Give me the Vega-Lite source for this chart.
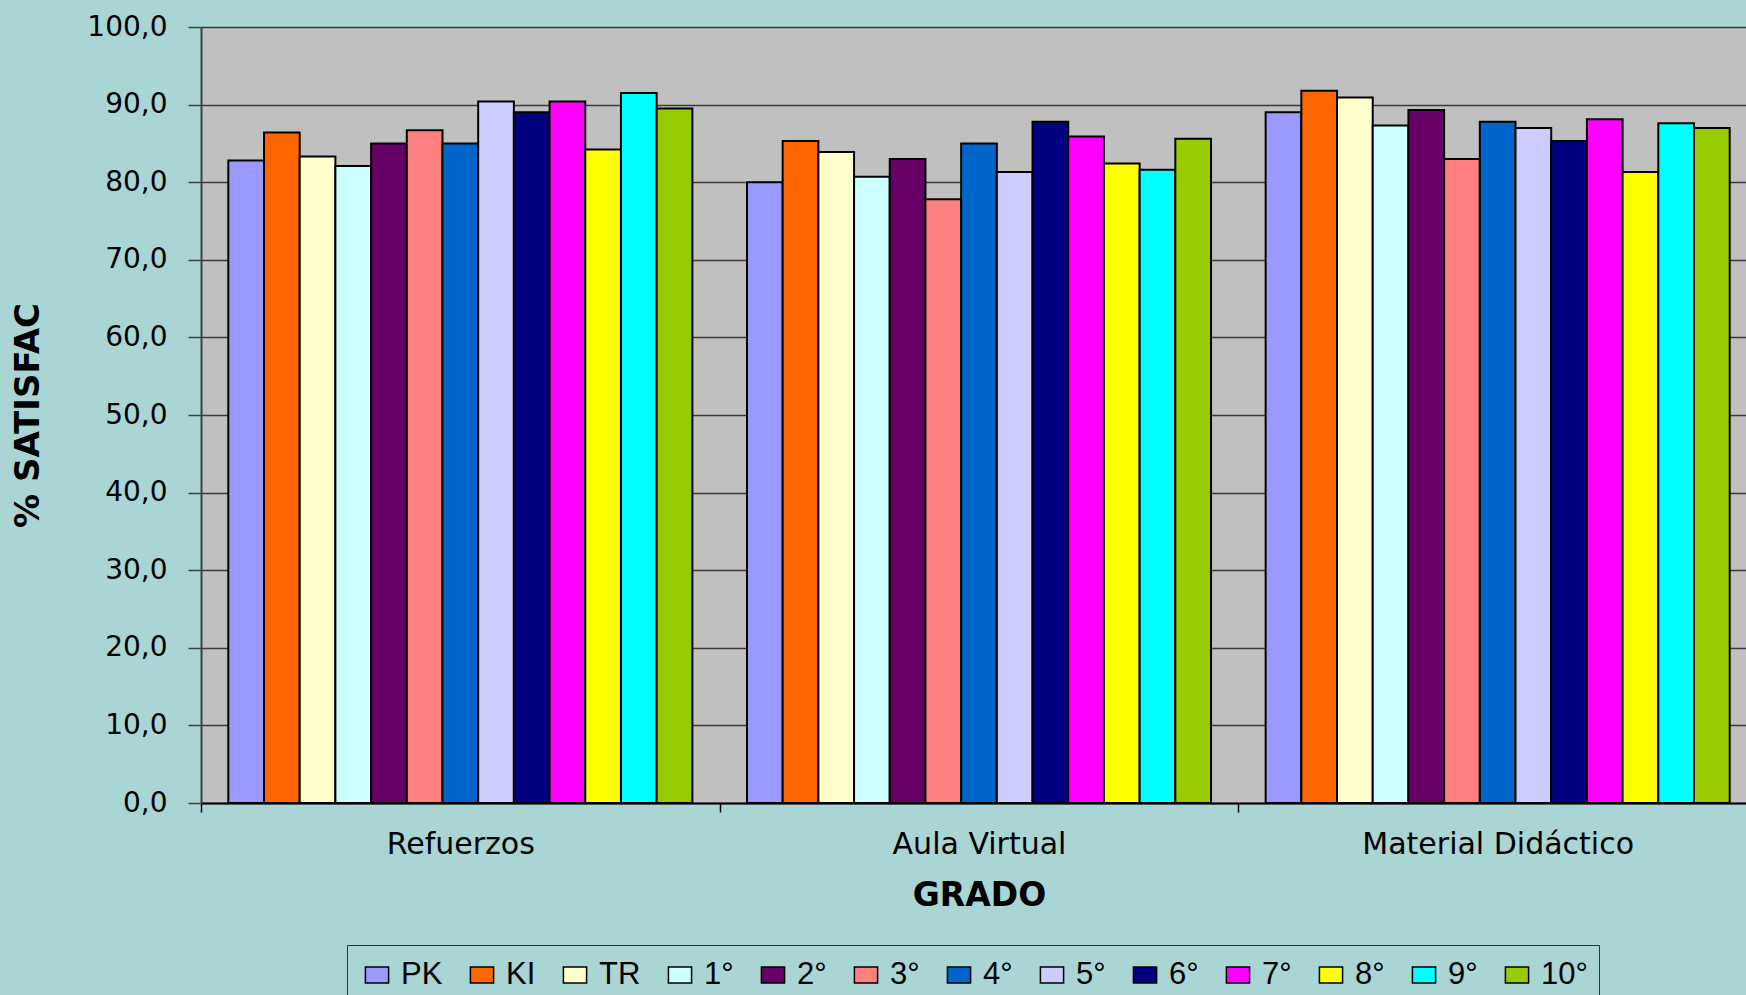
{
  "$schema": "https://vega.github.io/schema/vega-lite/v6.json",
  "width": 1556,
  "height": 776,
  "autosize": {"type": "none"},
  "padding": {"left": 201, "top": 27, "right": -11, "bottom": 192},
  "background": "#aad5d5",
  "data": {
    "values": [
      {"Aspecto": "Refuerzos", "Grado": "PK", "Pct": 82.8},
      {"Aspecto": "Refuerzos", "Grado": "KI", "Pct": 86.4},
      {"Aspecto": "Refuerzos", "Grado": "TR", "Pct": 83.3},
      {"Aspecto": "Refuerzos", "Grado": "1°", "Pct": 82.1},
      {"Aspecto": "Refuerzos", "Grado": "2°", "Pct": 85.0},
      {"Aspecto": "Refuerzos", "Grado": "3°", "Pct": 86.7},
      {"Aspecto": "Refuerzos", "Grado": "4°", "Pct": 85.0},
      {"Aspecto": "Refuerzos", "Grado": "5°", "Pct": 90.4},
      {"Aspecto": "Refuerzos", "Grado": "6°", "Pct": 89.0},
      {"Aspecto": "Refuerzos", "Grado": "7°", "Pct": 90.4},
      {"Aspecto": "Refuerzos", "Grado": "8°", "Pct": 84.2},
      {"Aspecto": "Refuerzos", "Grado": "9°", "Pct": 91.5},
      {"Aspecto": "Refuerzos", "Grado": "10°", "Pct": 89.5},
      {"Aspecto": "Aula Virtual", "Grado": "PK", "Pct": 80.0},
      {"Aspecto": "Aula Virtual", "Grado": "KI", "Pct": 85.3},
      {"Aspecto": "Aula Virtual", "Grado": "TR", "Pct": 83.9},
      {"Aspecto": "Aula Virtual", "Grado": "1°", "Pct": 80.7},
      {"Aspecto": "Aula Virtual", "Grado": "2°", "Pct": 83.0},
      {"Aspecto": "Aula Virtual", "Grado": "3°", "Pct": 77.8},
      {"Aspecto": "Aula Virtual", "Grado": "4°", "Pct": 85.0},
      {"Aspecto": "Aula Virtual", "Grado": "5°", "Pct": 81.3},
      {"Aspecto": "Aula Virtual", "Grado": "6°", "Pct": 87.8},
      {"Aspecto": "Aula Virtual", "Grado": "7°", "Pct": 85.9},
      {"Aspecto": "Aula Virtual", "Grado": "8°", "Pct": 82.4},
      {"Aspecto": "Aula Virtual", "Grado": "9°", "Pct": 81.6},
      {"Aspecto": "Aula Virtual", "Grado": "10°", "Pct": 85.6},
      {"Aspecto": "Material Didáctico", "Grado": "PK", "Pct": 89.0},
      {"Aspecto": "Material Didáctico", "Grado": "KI", "Pct": 91.8},
      {"Aspecto": "Material Didáctico", "Grado": "TR", "Pct": 90.9},
      {"Aspecto": "Material Didáctico", "Grado": "1°", "Pct": 87.3},
      {"Aspecto": "Material Didáctico", "Grado": "2°", "Pct": 89.3},
      {"Aspecto": "Material Didáctico", "Grado": "3°", "Pct": 83.0},
      {"Aspecto": "Material Didáctico", "Grado": "4°", "Pct": 87.8},
      {"Aspecto": "Material Didáctico", "Grado": "5°", "Pct": 87.0},
      {"Aspecto": "Material Didáctico", "Grado": "6°", "Pct": 85.3},
      {"Aspecto": "Material Didáctico", "Grado": "7°", "Pct": 88.1},
      {"Aspecto": "Material Didáctico", "Grado": "8°", "Pct": 81.3},
      {"Aspecto": "Material Didáctico", "Grado": "9°", "Pct": 87.6},
      {"Aspecto": "Material Didáctico", "Grado": "10°", "Pct": 87.0}
    ]
  },
  "mark": {"type": "bar", "stroke": "#000000", "strokeWidth": 2},
  "encoding": {
    "x": {
      "field": "Aspecto",
      "type": "nominal",
      "sort": ["Refuerzos", "Aula Virtual", "Material Didáctico"],
      "scale": {"paddingInner": 0, "paddingOuter": 0},
      "title": "GRADO",
      "axis": {
        "labelAngle": 0,
        "labelFont": "DejaVu Sans",
        "labelFontSize": 30,
        "labelLimit": 0,
        "labelColor": "#000000",
        "labelBaseline": "alphabetic",
        "labelPadding": 41,
        "tickSize": 9,
        "tickColor": "#000000",
        "tickWidth": 1.5,
        "tickBand": "extent",
        "domainColor": "#000000",
        "domainWidth": 2,
        "titleFont": "DejaVu Sans",
        "titleFontSize": 33,
        "titleFontWeight": "bold",
        "titleColor": "#000000",
        "titleBaseline": "alphabetic",
        "titleX": 778,
        "titleY": 102
      }
    },
    "xOffset": {
      "field": "Grado",
      "type": "nominal",
      "sort": ["PK", "KI", "TR", "1°", "2°", "3°", "4°", "5°", "6°", "7°", "8°", "9°", "10°"],
      "scale": {"paddingInner": 0, "paddingOuter": 0.765}
    },
    "y": {
      "field": "Pct",
      "type": "quantitative",
      "scale": {"domain": [0, 100], "nice": false, "zero": true},
      "title": "% SATISFAC",
      "axis": {
        "values": [0, 10, 20, 30, 40, 50, 60, 70, 80, 90, 100],
        "labelExpr": "replace(format(datum.value, '.1f'), '.', ',')",
        "labelFont": "DejaVu Sans",
        "labelFontSize": 28,
        "labelColor": "#000000",
        "labelPadding": 21,
        "tickSize": 13,
        "tickColor": "#404040",
        "tickWidth": 1.5,
        "domainColor": "#404040",
        "domainWidth": 2,
        "grid": true,
        "gridColor": "#3a3a3a",
        "gridWidth": 1.5,
        "titleFont": "DejaVu Sans",
        "titleFontSize": 34,
        "titleFontWeight": "bold",
        "titleColor": "#000000",
        "titleAngle": -90,
        "titleAlign": "center",
        "titleBaseline": "middle",
        "titleX": -173,
        "titleY": 388
      }
    },
    "color": {
      "field": "Grado",
      "type": "nominal",
      "sort": ["PK", "KI", "TR", "1°", "2°", "3°", "4°", "5°", "6°", "7°", "8°", "9°", "10°"],
      "scale": {
        "domain": ["PK", "KI", "TR", "1°", "2°", "3°", "4°", "5°", "6°", "7°", "8°", "9°", "10°"],
        "range": ["#9999FF", "#FF6600", "#FFFFCC", "#CCFFFF", "#660066", "#FF8080", "#0066CC", "#CCCCFF", "#000080", "#FF00FF", "#FFFF00", "#00FFFF", "#99CC00"]
      },
      "legend": {
        "orient": "none",
        "legendX": 146,
        "legendY": 918,
        "direction": "horizontal",
        "title": null,
        "labelFont": "Liberation Sans",
        "labelFontSize": 31,
        "labelColor": "#000000",
        "labelOffset": 5,
        "symbolType": "M-0.644,-0.444L0.644,-0.444L0.644,0.444L-0.644,0.444Z",
        "symbolSize": 1296,
        "symbolStrokeColor": "#000000",
        "symbolStrokeWidth": 1.5,
        "symbolOpacity": 1,
        "symbolOffset": 0,
        "columnPadding": 20,
        "padding": 11,
        "strokeColor": "#333333",
        "fillColor": null
      }
    }
  },
  "config": {
    "view": {"fill": "#C0C0C0", "stroke": null}
  }
}
